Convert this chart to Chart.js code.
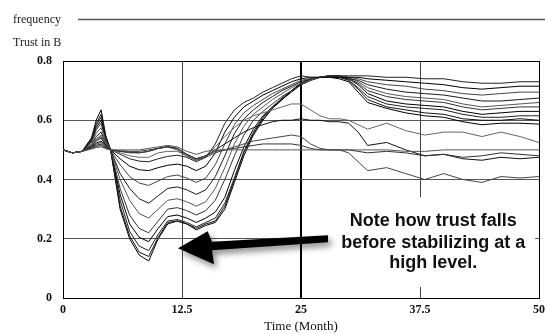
<!DOCTYPE html>
<html>
<head>
<meta charset="utf-8">
<script src="https://cdn.jsdelivr.net/npm/chart.js@4.4.1/dist/chart.umd.min.js"></script>
<style>
html,body{margin:0;padding:0;background:#fff;}
canvas{display:block;}
</style>
</head>
<body>
<canvas id="c" width="545" height="334"></canvas>
<script>
// Time axis (months)
const months = [0,1,2,3,3.5,4,4.5,5,6,7,8,9,10,11,12,13,14,15,16,17,18,19,20,21,22,23,24,25,26,27,28,29,30,31,32,34,36,38,40,42,44,46,48,50];

// Trust in B — sensitivity runs
const runK1 = [.5,.49,.495,.506,.515,.52,.507,.5, .485,.47,.462,.46,.47,.478,.482,.475,.46,.475,.52,.59,.635,.66,.675,.695,.71,.725,.74,.75,.745,.745,.75,.75, .75,.75,.75,.745,.745,.74,.74,.73,.725,.725,.73,.73];
const runK2 = [.5,.49,.495,.509,.523,.53,.511,.5, .47,.445,.433,.43,.44,.448,.452,.445,.43,.445,.49,.56,.61,.645,.665,.685,.70,.715,.73,.74,.745,.745,.745,.745, .745,.745,.74,.735,.73,.725,.72,.71,.705,.71,.715,.715];
const runK3 = [.5,.49,.495,.514,.534,.545,.516,.5, .45,.41,.388,.38,.395,.41,.415,.405,.39,.405,.45,.52,.585,.625,.65,.67,.69,.705,.72,.735,.74,.745,.745,.745, .745,.74,.73,.72,.715,.705,.70,.69,.685,.69,.695,.695];
const runK4 = [.5,.49,.495,.518,.545,.56,.521,.5, .42,.37,.335,.32,.345,.37,.375,.365,.35,.365,.41,.48,.555,.605,.635,.66,.68,.70,.715,.73,.74,.745,.745,.745, .74,.735,.72,.705,.695,.69,.685,.675,.665,.665,.67,.675];
const runK5 = [.5,.49,.495,.523,.556,.575,.526,.5, .40,.33,.285,.27,.30,.33,.335,.325,.31,.325,.37,.44,.52,.58,.62,.645,.67,.69,.71,.725,.735,.745,.75,.75, .745,.73,.71,.69,.68,.675,.67,.655,.645,.65,.655,.66];
const runK6 = [.5,.49,.495,.527,.568,.59,.532,.5, .37,.28,.235,.22,.26,.30,.305,.295,.28,.295,.33,.40,.48,.55,.60,.63,.655,.68,.70,.72,.735,.745,.75,.75, .74,.725,.70,.68,.67,.665,.66,.645,.635,.64,.645,.645];
const runK7 = [.5,.49,.495,.53,.575,.60,.535,.5, .35,.25,.205,.19,.235,.275,.28,.27,.255,.27,.29,.34,.43,.51,.57,.615,.645,.67,.695,.72,.735,.745,.75,.75, .74,.72,.69,.665,.655,.65,.645,.63,.62,.625,.63,.63];
const runK8 = [.5,.49,.495,.533,.583,.61,.539,.5, .33,.225,.175,.16,.215,.26,.265,.255,.24,.255,.27,.32,.405,.495,.56,.61,.645,.675,.70,.72,.735,.745,.75,.75, .735,.71,.68,.655,.645,.64,.635,.62,.61,.61,.615,.615];
const runK9 = [.5,.49,.495,.536,.59,.62,.542,.5, .31,.21,.155,.14,.205,.255,.26,.25,.235,.25,.26,.31,.40,.49,.555,.605,.64,.67,.70,.725,.74,.745,.75,.745, .735,.705,.67,.645,.635,.625,.62,.605,.60,.60,.605,.60];
const runK10 = [.5,.49,.495,.541,.601,.635,.547,.5, .30,.20,.145,.125,.20,.25,.26,.25,.23,.245,.255,.30,.39,.48,.55,.60,.64,.67,.70,.725,.74,.745,.745,.74, .73,.695,.66,.64,.625,.615,.61,.595,.585,.59,.59,.587];
const runF1 = [.5,.49,.495,.503,.508,.51,.504,.5, .5,.5,.5,.505,.51,.515,.51,.495,.485,.495,.5,.5,.5,.5,.5,.5,.5,.5,.5,.5,.5,.5,.5,.5, .5,.5,.5,.5,.495,.495,.5,.5,.5,.5,.5,.5];
const runF2 = [.5,.49,.495,.505,.511,.515,.505,.5, .497,.495,.495,.5,.505,.512,.505,.485,.47,.48,.495,.5,.505,.51,.515,.52,.52,.52,.52,.515,.505,.5,.5,.5, .5,.495,.49,.495,.49,.48,.485,.475,.48,.49,.485,.48];
const runB = [.5,.49,.495,.508,.519,.525,.509,.5, .495,.49,.49,.495,.505,.51,.5,.48,.465,.475,.49,.5,.51,.52,.53,.535,.54,.545,.55,.545,.52,.505,.5,.5, .49,.46,.43,.44,.42,.40,.42,.40,.39,.41,.405,.41];
const runC = [.5,.49,.495,.512,.53,.54,.514,.5, .495,.492,.49,.495,.505,.51,.505,.485,.47,.48,.5,.52,.54,.56,.575,.585,.595,.60,.60,.605,.60,.60,.595,.595, .59,.56,.515,.525,.50,.48,.485,.47,.465,.475,.47,.475];
const runA = [.5,.49,.495,.515,.538,.55,.518,.5, .49,.48,.475,.475,.49,.495,.495,.48,.465,.48,.51,.545,.575,.60,.615,.625,.635,.645,.655,.655,.635,.615,.605,.605, .60,.585,.57,.59,.565,.55,.56,.56,.545,.56,.545,.525];

const runs = [runF1, runF2, runB, runC, runA, runK1, runK2, runK3, runK4, runK5, runK6, runK7, runK8, runK9, runK10];

// Tick labels
const xTicks = [0, 12.5, 25, 37.5, 50];
const yTicks = [0, 0.2, 0.4, 0.6, 0.8];

// Texts
const legendLabel = 'frequency';
const yAxisLabel = 'Trust in B';
const xAxisLabel = 'Time (Month)';
const noteLines = ['Note how trust falls', 'before stabilizing at a', 'high level.'];

const shades = ['#555','#333','#444','#111','#666','#222','#000','#444','#1a1a1a','#555','#333','#000','#222','#111','#000'];

const datasets = runs.map((r, i) => ({
  data: months.map((m, j) => ({x: m, y: r[j]})),
  borderColor: shades[i % shades.length],
  borderWidth: 1,
  pointRadius: 0,
  tension: 0,
  fill: false
}));

const annotPlugin = {
  id: 'annot',
  afterDatasetsDraw(chart) {
    const ctx = chart.ctx;
    const xs = chart.scales.x, ys = chart.scales.y;
    const X = v => xs.getPixelForValue(v), Y = v => ys.getPixelForValue(v);
    ctx.save();
    // white box behind note
    ctx.fillStyle = '#fff';
    const bx0 = X(27.8), bx1 = X(49.6), by0 = Y(0.34), by1 = Y(0.037);
    ctx.fillRect(bx0, by0, bx1 - bx0, by1 - by0);
    // arrow with shadow
    ctx.shadowColor = 'rgba(0,0,0,0.45)';
    ctx.shadowBlur = 6;
    ctx.shadowOffsetX = 3;
    ctx.shadowOffsetY = 4;
    ctx.fillStyle = '#000';
    const pts = [[12.08,0.168],[15.2,0.225],[15.65,0.19],[27.84,0.212],[27.84,0.188],[15.65,0.161],[15.86,0.114]];
    ctx.beginPath();
    pts.forEach((p, i) => { const px = X(p[0]), py = Y(p[1]); if (i === 0) ctx.moveTo(px, py); else ctx.lineTo(px, py); });
    ctx.closePath();
    ctx.fill();
    ctx.shadowColor = 'transparent';
    // note text
    ctx.fillStyle = '#111';
    ctx.font = 'bold 18px "Liberation Sans", Arial, sans-serif';
    ctx.textAlign = 'center';
    ctx.textBaseline = 'middle';
    const ty = [0.259, 0.186, 0.118];
    noteLines.forEach((s, i) => ctx.fillText(s, X(38.9), Y(ty[i])));
    ctx.restore();
  },
  afterDraw(chart) {
    const ctx = chart.ctx;
    ctx.save();
    ctx.fillStyle = '#222';
    ctx.font = '12px "Liberation Serif", "Times New Roman", serif';
    ctx.textAlign = 'left';
    ctx.textBaseline = 'middle';
    ctx.fillText(legendLabel, 13, 20);
    ctx.fillText(yAxisLabel, 13, 43);
    ctx.strokeStyle = '#555';
    ctx.lineWidth = 1.5;
    ctx.beginPath();
    ctx.moveTo(78, 19.5);
    ctx.lineTo(545, 19.5);
    ctx.stroke();
    ctx.restore();
  }
};

new Chart(document.getElementById('c'), {
  type: 'line',
  data: { datasets },
  plugins: [annotPlugin],
  options: {
    responsive: false,
    animation: false,
    devicePixelRatio: 1,
    layout: { padding: { top: 61, right: 0, left: 0, bottom: 0 } },
    plugins: { legend: { display: false }, tooltip: { enabled: false } },
    scales: {
      x: {
        type: 'linear', min: 0, max: 50,
        afterBuildTicks: s => { s.ticks = xTicks.map(v => ({value: v})); },
        afterFit: s => { s.height = 36; s.paddingRight = 6; },
        ticks: { font: { family: '"Liberation Serif", serif', size: 12, weight: 'bold' }, color: '#111', padding: 5, maxRotation: 0, autoSkip: false, callback: v => String(v) },
        grid: {
          drawTicks: false,
          color: c => (c.tick && (c.tick.value === 0 || c.tick.value === 50 || c.tick.value === 25)) ? '#000' : '#444',
          lineWidth: c => (c.tick && c.tick.value === 25) ? 2 : 1
        },
        border: { color: '#000', width: 1 },
        title: { display: true, text: xAxisLabel, font: { family: '"Liberation Serif", serif', size: 13 }, color: '#111', padding: { top: 0, bottom: 0 } }
      },
      y: {
        min: 0, max: 0.8,
        afterBuildTicks: s => { s.ticks = yTicks.map(v => ({value: v})); },
        afterFit: s => { s.width = 63; },
        ticks: { font: { family: '"Liberation Serif", serif', size: 12, weight: 'bold' }, color: '#111', padding: 11, callback: v => v === 0 ? '0' : v.toFixed(1) },
        grid: {
          drawTicks: false,
          color: c => (c.tick && (c.tick.value === 0 || Math.abs(c.tick.value - 0.8) < 1e-9)) ? '#000' : '#555',
          lineWidth: 1
        },
        border: { color: '#000', width: 1 }
      }
    }
  }
});
</script>
</body>
</html>
